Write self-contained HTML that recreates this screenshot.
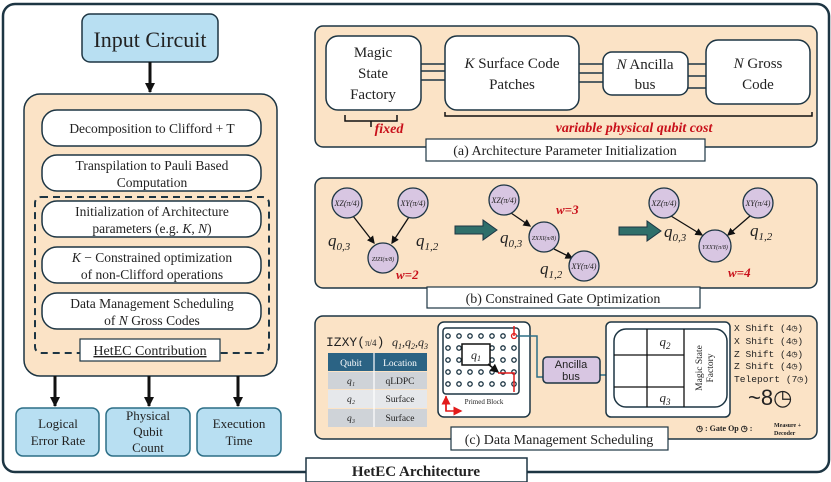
<!DOCTYPE html>
<html><head><meta charset="utf-8"><style>
html,body{margin:0;padding:0;background:#fff;}
svg{display:block;}
text{font-family:"Liberation Serif",serif;fill:#222;}
</style></head><body>
<svg width="831" height="482" viewBox="0 0 831 482" xmlns="http://www.w3.org/2000/svg">
<defs>
<marker id="ah" markerWidth="6" markerHeight="6" refX="5" refY="3" orient="auto" markerUnits="strokeWidth"><path d="M0,0 L6,3 L0,6 z" fill="#111"/></marker>
<marker id="ahb" markerWidth="10" markerHeight="10" refX="9" refY="5" orient="auto" markerUnits="userSpaceOnUse"><path d="M0,0 L10,5 L0,10 z" fill="#111"/></marker>
<marker id="ab" markerWidth="6" markerHeight="6" refX="5" refY="3" orient="auto" markerUnits="strokeWidth"><path d="M0,0 L6,3 L0,6 z" fill="#2c6e86"/></marker>
<marker id="ar" markerWidth="6" markerHeight="6" refX="5" refY="3" orient="auto" markerUnits="strokeWidth"><path d="M0,0 L6,3 L0,6 z" fill="#e21b1b"/></marker>
</defs>
<rect x="3" y="4" width="826" height="468" rx="12" fill="#fff" stroke="#1d3543" stroke-width="2.5"/>
<rect x="306" y="458" width="221" height="24" fill="#fff" stroke="#1d3543" stroke-width="1.5"/>
<text x="416" y="476" font-size="15" font-weight="bold" text-anchor="middle">HetEC Architecture</text>

<rect x="82" y="14" width="136" height="48" rx="8" fill="#b8dff2" stroke="#1d3543" stroke-width="1.5"/>
<text x="150" y="47" font-size="22" text-anchor="middle">Input Circuit</text>
<line x1="150" y1="62" x2="150" y2="92" stroke="#111" stroke-width="3" marker-end="url(#ahb)"/>

<rect x="24" y="94" width="253" height="282" rx="16" fill="#fbe3c6" stroke="#1d3543" stroke-width="1.5"/>
<g fill="#fff" stroke="#1d3543" stroke-width="1.5">
<rect x="42" y="110" width="219" height="36" rx="15"/>
<rect x="42" y="155" width="219" height="36" rx="15"/>
<rect x="42" y="201" width="219" height="36" rx="15"/>
<rect x="42" y="247" width="219" height="36" rx="15"/>
<rect x="42" y="293" width="219" height="36" rx="15"/>
</g>
<rect x="35" y="197" width="234" height="156" rx="6" fill="none" stroke="#1d3543" stroke-width="2" stroke-dasharray="7,5"/>
<rect x="80" y="339" width="140" height="22" fill="#fff" stroke="#1d3543" stroke-width="1.2"/>
<text x="150" y="355" font-size="14" text-anchor="middle" text-decoration="underline">HetEC Contribution</text>
<g font-size="13.5" text-anchor="middle">
<text x="152" y="133">Decomposition to Clifford + T</text>
<text x="152" y="170">Transpilation to Pauli Based</text>
<text x="152" y="187">Computation</text>
<text x="152" y="216">Initialization of Architecture</text>
<text x="152" y="233">parameters (e.g. <tspan font-style="italic">K</tspan>, <tspan font-style="italic">N</tspan>)</text>
<text x="152" y="262"><tspan font-style="italic">K</tspan> − Constrained optimization</text>
<text x="152" y="279">of non-Clifford operations</text>
<text x="152" y="308">Data Management Scheduling</text>
<text x="152" y="325">of <tspan font-style="italic">N</tspan> Gross Codes</text>
</g>
<g stroke="#111" stroke-width="3">
<line x1="55" y1="376" x2="55" y2="406" marker-end="url(#ahb)"/>
<line x1="149" y1="376" x2="149" y2="406" marker-end="url(#ahb)"/>
<line x1="238" y1="376" x2="238" y2="406" marker-end="url(#ahb)"/>
</g>
<g fill="#b8dff2" stroke="#2c6e86" stroke-width="1.5">
<rect x="16" y="408" width="83" height="48" rx="7"/>
<rect x="106" y="408" width="84" height="48" rx="7"/>
<rect x="197" y="408" width="84" height="48" rx="7"/>
</g>
<g font-size="13" text-anchor="middle">
<text x="58" y="428">Logical</text><text x="58" y="445">Error Rate</text>
<text x="148" y="420">Physical</text><text x="148" y="436">Qubit</text><text x="148" y="452">Count</text>
<text x="239" y="428">Execution</text><text x="239" y="445">Time</text>
</g>

<rect x="315" y="26" width="502" height="121" rx="8" fill="#fbe3c6" stroke="#1d3543" stroke-width="1.5"/>
<g stroke="#1d3543" stroke-width="1.5">
<line x1="421" y1="64" x2="445" y2="64"/><line x1="421" y1="71" x2="445" y2="71"/><line x1="421" y1="80" x2="445" y2="80"/>
<line x1="579" y1="64" x2="603" y2="64"/><line x1="579" y1="73" x2="603" y2="73"/><line x1="579" y1="82" x2="603" y2="82"/>
<line x1="688" y1="64" x2="706" y2="64"/><line x1="688" y1="76" x2="706" y2="76"/><line x1="688" y1="88" x2="706" y2="88"/>
</g>
<g fill="#fff" stroke="#1d3543" stroke-width="1.5">
<rect x="326" y="36" width="95" height="74" rx="12"/>
<rect x="445" y="36" width="134" height="74" rx="12"/>
<rect x="603" y="52" width="85" height="43" rx="9"/>
<rect x="706" y="40" width="104" height="64" rx="12"/>
</g>
<g font-size="15" text-anchor="middle">
<text x="373" y="57">Magic</text><text x="373" y="78">State</text><text x="373" y="99">Factory</text>
<text x="512" y="68"><tspan font-style="italic">K</tspan> Surface Code</text><text x="512" y="89">Patches</text>
<text x="645" y="69"><tspan font-style="italic">N</tspan> Ancilla</text><text x="645" y="89">bus</text>
<text x="758" y="68"><tspan font-style="italic">N</tspan> Gross</text><text x="758" y="89">Code</text>
</g>
<path d="M345,115 v6 h26 v6 M371,121 h26 v-6" fill="none" stroke="#111" stroke-width="1.5"/>
<path d="M445,112 v4 h367 v-4" fill="none" stroke="#111" stroke-width="1.5"/>
<text x="389" y="133" font-size="14" font-weight="bold" font-style="italic" text-anchor="middle" style="fill:#c8101a">fixed</text>
<text x="634" y="132" font-size="14" font-weight="bold" font-style="italic" text-anchor="middle" style="fill:#c8101a">variable physical qubit cost</text>
<rect x="426" y="139" width="279" height="22" fill="#fff" stroke="#1d3543" stroke-width="1.2"/>
<text x="565" y="155" font-size="14" text-anchor="middle">(a) Architecture Parameter Initialization</text>

<rect x="315" y="178" width="502" height="110" rx="8" fill="#fbe3c6" stroke="#1d3543" stroke-width="1.5"/>
<g stroke="#111" stroke-width="1.3">
<line x1="353" y1="216" x2="374" y2="243" marker-end="url(#ah)"/>
<line x1="409" y1="217" x2="392" y2="243" marker-end="url(#ah)"/>
<line x1="511" y1="213" x2="530" y2="226" marker-end="url(#ah)"/>
<line x1="554" y1="249" x2="572" y2="258" marker-end="url(#ah)"/>
<line x1="671" y1="216" x2="702" y2="235" marker-end="url(#ah)"/>
<line x1="750" y1="216" x2="728" y2="235" marker-end="url(#ah)"/>
</g>
<g fill="#d8c6e2" stroke="#1d3543" stroke-width="1.3">
<circle cx="347" cy="203" r="15"/><circle cx="413" cy="203" r="15"/><circle cx="383" cy="258" r="15"/>
<circle cx="504" cy="200" r="15"/><circle cx="544" cy="237" r="15"/><circle cx="584" cy="266" r="15"/>
<circle cx="664" cy="203" r="15"/><circle cx="758" cy="203" r="15"/><circle cx="715" cy="246" r="16"/>
</g>
<g font-size="8" font-style="italic" text-anchor="middle">
<text x="347" y="206">XZ(π/4)</text><text x="413" y="206">XY(π/4)</text><text x="383" y="261" font-size="6">ZIZI(π/8)</text>
<text x="504" y="203">XZ(π/4)</text><text x="544" y="240" font-size="6">ZXXI(π/8)</text><text x="584" y="269">XY(π/4)</text>
<text x="664" y="206">XZ(π/4)</text><text x="758" y="206">XY(π/4)</text><text x="715" y="249" font-size="6">YXXY(π/8)</text>
</g>
<g font-size="17" font-style="italic">
<text x="328" y="246">q<tspan font-size="11" dy="4">0,3</tspan></text>
<text x="416" y="246">q<tspan font-size="11" dy="4">1,2</tspan></text>
<text x="500" y="243">q<tspan font-size="11" dy="4">0,3</tspan></text>
<text x="540" y="274">q<tspan font-size="11" dy="4">1,2</tspan></text>
<text x="664" y="237">q<tspan font-size="11" dy="4">0,3</tspan></text>
<text x="750" y="236">q<tspan font-size="11" dy="4">1,2</tspan></text>
</g>
<g font-size="13" font-weight="bold" font-style="italic">
<text x="396" y="279" style="fill:#c8101a">w=2</text>
<text x="556" y="214" style="fill:#c8101a">w=3</text>
<text x="728" y="277" style="fill:#c8101a">w=4</text>
</g>
<path d="M455,226 h28 v-6 l14,10 l-14,10 v-6 h-28 z" fill="#2f6f6a" stroke="#1d3543" stroke-width="1"/>
<path d="M619,227 h28 v-6 l14,10 l-14,10 v-6 h-28 z" fill="#2f6f6a" stroke="#1d3543" stroke-width="1"/>
<rect x="427" y="287" width="273" height="21" fill="#fff" stroke="#1d3543" stroke-width="1.2"/>
<text x="563" y="303" font-size="14" text-anchor="middle">(b) Constrained Gate Optimization</text>

<rect x="315" y="316" width="502" height="123" rx="8" fill="#fbe3c6" stroke="#1d3543" stroke-width="1.5"/>
<text x="326" y="346" font-size="13" style="font-family:'Liberation Mono',monospace">IZXY(<tspan style="font-family:'Liberation Serif',serif" font-size="9">π/4</tspan>)</text>
<text x="392" y="346" font-size="12" font-style="italic">q<tspan font-size="8" dy="3">1</tspan><tspan dy="-3">,q</tspan><tspan font-size="8" dy="3">2</tspan><tspan dy="-3">,q</tspan><tspan font-size="8" dy="3">3</tspan></text>
<rect x="328" y="353" width="99" height="18" fill="#2b6384"/>
<rect x="328" y="372" width="99" height="17" fill="#cfd3d8"/>
<rect x="328" y="390" width="99" height="18" fill="#e6e8eb"/>
<rect x="328" y="409" width="99" height="18" fill="#cfd3d8"/>
<line x1="374" y1="353" x2="374" y2="427" stroke="#fff" stroke-width="1.2"/>
<g font-size="9.5" text-anchor="middle">
<text x="351" y="366" style="fill:#fff">Qubit</text><text x="400" y="366" style="fill:#fff">Location</text>
<text x="351" y="384" font-style="italic">q₁</text><text x="400" y="384">qLDPC</text>
<text x="351" y="402" font-style="italic">q₂</text><text x="400" y="402">Surface</text>
<text x="351" y="421" font-style="italic">q₃</text><text x="400" y="421">Surface</text>
</g>
<rect x="438" y="322" width="92" height="95" rx="6" fill="#fff" stroke="#1d3543" stroke-width="1.5"/>
<rect x="443" y="328" width="76" height="66" rx="3" fill="#fff" stroke="#1d3543" stroke-width="1.5"/>
<g fill="none" stroke="#1d3543" stroke-width="1.3">
<circle cx="448" cy="336" r="2.2"/><circle cx="459" cy="336" r="2.2"/><circle cx="470" cy="336" r="2.2"/><circle cx="481" cy="336" r="2.2"/><circle cx="492" cy="336" r="2.2"/><circle cx="503" cy="336" r="2.2"/>
<circle cx="448" cy="348" r="2.2"/><circle cx="459" cy="348" r="2.2"/><circle cx="492" cy="348" r="2.2"/><circle cx="503" cy="348" r="2.2"/><circle cx="514" cy="348" r="2.2"/>
<circle cx="448" cy="360" r="2.2"/><circle cx="459" cy="360" r="2.2"/><circle cx="492" cy="360" r="2.2"/><circle cx="503" cy="360" r="2.2"/><circle cx="514" cy="360" r="2.2"/>
<circle cx="448" cy="372" r="2.2"/><circle cx="459" cy="372" r="2.2"/><circle cx="470" cy="372" r="2.2"/><circle cx="481" cy="372" r="2.2"/><circle cx="492" cy="372" r="2.2"/><circle cx="503" cy="372" r="2.2"/><circle cx="514" cy="372" r="2.2"/>
<circle cx="448" cy="384" r="2.2"/><circle cx="459" cy="384" r="2.2"/><circle cx="470" cy="384" r="2.2"/><circle cx="481" cy="384" r="2.2"/><circle cx="492" cy="384" r="2.2"/><circle cx="503" cy="384" r="2.2"/><circle cx="514" cy="384" r="2.2"/>
</g>
<rect x="462" y="344" width="28" height="21" fill="#fff" stroke="#111" stroke-width="1.5"/>
<text x="476" y="359" font-size="12" font-style="italic" text-anchor="middle">q<tspan font-size="8" dy="2">1</tspan></text>
<line x1="488" y1="364" x2="498" y2="372" stroke="#111" stroke-width="1.5" marker-end="url(#ah)"/>
<path d="M498,373 H514 V392 M514,336 V326" fill="none" stroke="#e21b1b" stroke-width="1.5"/>
<circle cx="514" cy="336" r="2.5" fill="none" stroke="#e21b1b" stroke-width="1.3"/>
<path d="M446,396 V411 H461" fill="none" stroke="#e21b1b" stroke-width="1.5" marker-end="url(#ar)"/>
<line x1="446" y1="411" x2="446" y2="397" stroke="#e21b1b" stroke-width="1.5" marker-end="url(#ar)"/>
<text x="484" y="404" font-size="7" text-anchor="middle">Primed Block</text>
<path d="M516,336 H537 V377 H543" fill="none" stroke="#2c6e86" stroke-width="1.5"/>
<path d="M600,375 H632 V348" fill="none" stroke="#2c6e86" stroke-width="1.5" marker-end="url(#ab)"/>
<rect x="543" y="357" width="57" height="26" rx="4" fill="#d8c6e2" stroke="#1d3543" stroke-width="1.5"/>
<text x="571" y="368" font-size="11" text-anchor="middle" style="font-family:'Liberation Sans',sans-serif">Ancilla</text>
<text x="571" y="380" font-size="11" text-anchor="middle" style="font-family:'Liberation Sans',sans-serif">bus</text>
<rect x="606" y="322" width="124" height="95" rx="5" fill="#fff" stroke="#1d3543" stroke-width="1.5"/>
<rect x="614" y="329" width="113" height="78" rx="12" fill="#fff" stroke="#1d3543" stroke-width="1.5"/>
<g stroke="#111" stroke-width="1.3">
<line x1="647" y1="329" x2="647" y2="407"/><line x1="684" y1="329" x2="684" y2="407"/>
<line x1="614" y1="355" x2="684" y2="355"/><line x1="614" y1="387" x2="684" y2="387"/>
</g>
<text x="665" y="346" font-size="13" font-style="italic" text-anchor="middle">q<tspan font-size="9" dy="3">2</tspan></text>
<text x="665" y="402" font-size="13" font-style="italic" text-anchor="middle">q<tspan font-size="9" dy="3">3</tspan></text>
<text transform="translate(702,368) rotate(-90)" font-size="9.5" text-anchor="middle">Magic State</text>
<text transform="translate(713,368) rotate(-90)" font-size="9.5" text-anchor="middle">Factory</text>
<g font-size="9.6">
<text x="734" y="331" style="font-family:'Liberation Mono',monospace">X Shift (4◷)</text>
<text x="734" y="344" style="font-family:'Liberation Mono',monospace">X Shift (4◷)</text>
<text x="734" y="357" style="font-family:'Liberation Mono',monospace">Z Shift (4◷)</text>
<text x="734" y="369" style="font-family:'Liberation Mono',monospace">Z Shift (4◷)</text>
<text x="734" y="382" style="font-family:'Liberation Mono',monospace">Teleport (7◷)</text>
</g>
<text x="748" y="405" font-size="22" style="font-family:'Liberation Sans',sans-serif">~8◷</text>
<text x="696" y="431" font-size="8" font-weight="bold">◷ : Gate Op  ◷ :</text>
<text x="774" y="427" font-size="6" font-weight="bold">Measure +</text>
<text x="774" y="435" font-size="6" font-weight="bold">Decoder</text>
<rect x="451" y="427" width="217" height="23" fill="#fff" stroke="#1d3543" stroke-width="1.2"/>
<text x="559" y="444" font-size="14" text-anchor="middle">(c) Data Management Scheduling</text>
</svg>
</body></html>
